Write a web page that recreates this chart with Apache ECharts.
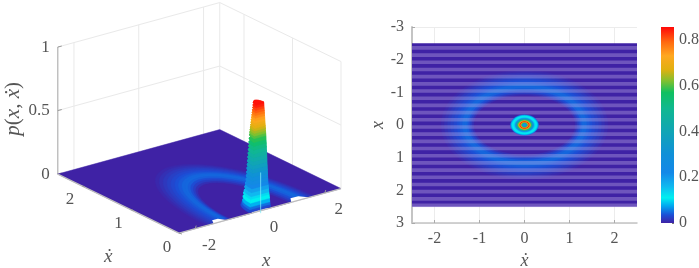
<!DOCTYPE html>
<html><head><meta charset="utf-8">
<style>html,body{margin:0;padding:0;background:#fff}#c{width:699px;height:268px;filter:blur(0.7px)}</style>
<script src="https://cdn.jsdelivr.net/npm/echarts@6/dist/echarts.min.js"></script>
</head><body><div id="c"></div>
<script>
// ---- data ----
const colourLevels = [0, 0.035, 0.075, 0.11, 0.16, 0.22, 0.3, 0.4, 0.5, 0.57, 0.62, 0.67, 0.73, 0.79, 0.856];
const colourValues = ['#3f22a5','#1c4fd6','#00a8f0','#00f0f0','#10b8f0','#1488e8','#1090d8','#10a5b5','#10b890','#10c060','#80c030','#e0b010','#ffa820','#ff6a10','#ff0808'];
// elliptical density ring: iso-contours from outside inward
const ringRadiusXdot = [1.85,1.78,1.71,1.64,1.57,1.50,1.44,1.38,1.33,1.28,1.24,1.20,1.16,1.12];
const ringRadiusX    = [1.66,1.60,1.54,1.48,1.42,1.36,1.30,1.24,1.18,1.12,1.06,1.00,0.95,0.90];
const ringLevel      = [0.005,0.011,0.017,0.023,0.029,0.035,0.04,0.045,0.046,0.042,0.033,0.022,0.01,0];
// central peak seen from above (right panel)
const centreRadius = [0.31, 0.295, 0.27, 0.24, 0.21, 0.19, 0.175, 0.16, 0.145, 0.13, 0.105, 0.085, 0.07, 0.055, 0.04, 0.03];
const centreLevel  = [0.05, 0.09, 0.11, 0.13, 0.2, 0.3, 0.4, 0.5, 0.6, 0.7, 0.85, 0.72, 0.6, 0.45, 0.3, 0.2];
// central peak silhouette (left panel)
const towerRadius = [0.33,0.31,0.30,0.29,0.28,0.27,0.26,0.25,0.24,0.235,0.23,0.225,0.22,0.215,0.21,0.205,0.20,0.195,0.19,0.185,0.18,0.175,0.17,0.165,0.16,0.155,0.15,0.145,0.14,0.135,0.13,0.125,0.12,0.115,0.11];
const towerLevel  = [0.01,0.03,0.05,0.08,0.11,0.13,0.16,0.19,0.22,0.25,0.28,0.31,0.34,0.37,0.40,0.43,0.46,0.49,0.52,0.55,0.58,0.60,0.62,0.64,0.66,0.68,0.70,0.72,0.74,0.76,0.78,0.80,0.82,0.84,0.85];
// clipped places along the xdot = 0 edge of the surface
const notchCentre = [-1.23, 0.03, 1.24];
const notchHalf   = [0.22, 0.30, 0.30];
const notchDepth  = [0.10, 0.12, 0.11];
// mesh rows visible as light stripes on the right panel
const stripeRows = [-2.36,-2.14,-1.92,-1.70,-1.48,-1.26,-1.04,-0.82,-0.60,-0.38,-0.16,0.06,0.28,0.50,0.72,0.94,1.16,1.38,1.60,1.82,2.04,2.26,2.46];
const surfaceX = [-2.5, 2.5];
const surfaceXdot3d = [0, 2.5];
const zTicks = [0, 0.5, 1];
const xTicks3d = [-2, 0, 2];
const xdotTicks3d = [0, 1, 2];
const xdotTicks = [-2, -1, 0, 1, 2];
const colourbarTop = 0.856;

// ---- helpers ----
function colourOf(v){
  for(let i=1;i<colourLevels.length;i++){
    if(v<=colourLevels[i]){
      const t=(v-colourLevels[i-1])/(colourLevels[i]-colourLevels[i-1]);
      return echarts.color.lerp(t,[colourValues[i-1],colourValues[i]]);
    }
  }
  return colourValues[colourValues.length-1];
}
// oblique view of the left panel, in the units of its hidden axes
const VIEW={u0:260,v0:210.8,xu:32.4,xv:-8.9,du:-48.5,dv:-23.6,zv:-127};
function proj(api,x,d,z){
  return api.coord([VIEW.u0+x*VIEW.xu+d*VIEW.du, VIEW.v0+x*VIEW.xv+d*VIEW.dv+(z||0)*VIEW.zv]);
}
const idx=a=>a.map((_,i)=>[i,0]);
const SERIF='"Liberation Serif","Times New Roman",serif';
const TXT='#555';
function halfEllipse(api,rd,rx,z){
  const pts=[];
  for(let k=0;k<=48;k++){const a=Math.PI*k/48; pts.push(proj(api,-rx*Math.cos(a),rd*Math.sin(a),z));}
  return pts;
}
function fullEllipse(api,rd,rx){
  const pts=[];
  for(let k=0;k<72;k++){const a=2*Math.PI*k/72; pts.push(api.coord([rd*Math.cos(a),rx*Math.sin(a)]));}
  return pts;
}
function poly(points,fill){return {type:'polygon',shape:{points},style:{fill,stroke:fill,lineWidth:0.5}};}
function line(a,b,stroke,w){return {type:'line',shape:{x1:a[0],y1:a[1],x2:b[0],y2:b[1]},style:{stroke,lineWidth:w}};}
function c3d(data,renderItem,z){return {type:'custom',xAxisIndex:0,yAxisIndex:0,coordinateSystem:'cartesian2d',data,renderItem,clip:false,silent:true,z:z,animation:false};}
function c2d(data,renderItem,z){return {type:'custom',xAxisIndex:1,yAxisIndex:1,coordinateSystem:'cartesian2d',data,renderItem,clip:false,silent:true,z:z,animation:false};}

// ---- wall and axis lines of the 3D box ----
const wallCol='#e9e9e9';
const wall3d=c3d([[0,0]],function(p,api){
  const xa=surfaceX[0],xb=surfaceX[1],d=surfaceXdot3d[1],ch=[];
  zTicks.slice(1).forEach(z=>{
    ch.push(line(proj(api,xa,d,z),proj(api,xb,d,z),wallCol,1));
    ch.push(line(proj(api,xb,d,z),proj(api,xb,0,z),wallCol,1));
  });
  xTicks3d.forEach(x=>ch.push(line(proj(api,x,d,0),proj(api,x,d,1),wallCol,1)));
  xdotTicks3d.forEach(t=>ch.push(line(proj(api,xb,t,0),proj(api,xb,t,1),wallCol,1)));
  ch.push(line(proj(api,xb,d,0),proj(api,xb,d,1),wallCol,1));
  ch.push(line(proj(api,xa,d,0),proj(api,xa,d,1),'#bdbdbd',1.4));
  zTicks.forEach(z=>{const a=proj(api,xa,d,z);ch.push(line(a,[a[0]+4,a[1]-1],'#999',1));});
  return {type:'group',children:ch};
},1);
const floor3d=c3d([[0,0]],function(p,api){
  const xa=surfaceX[0],xb=surfaceX[1],d=surfaceXdot3d[1];
  return poly([proj(api,xa,0,0),proj(api,xb,0,0),proj(api,xb,d,0),proj(api,xa,d,0)],colourOf(0));
},2);
const edge3d=c3d([[0,0]],function(p,api){
  const xa=surfaceX[0],xb=surfaceX[1],d=surfaceXdot3d[1],ch=[];
  ch.push(line(proj(api,xa,0,0),proj(api,xb,0,0),'#bdbdbd',1.3));
  ch.push(line(proj(api,xa,0,0),proj(api,xa,d,0),'#bdbdbd',1.3));
  xTicks3d.forEach(x=>{const a=proj(api,x,0,0);ch.push(line(a,[a[0]+1,a[1]-3],'#999',1));});
  xdotTicks3d.forEach(t=>{const a=proj(api,xa,t,0);ch.push(line(a,[a[0]+3,a[1]+1],'#999',1));});
  return {type:'group',children:ch};
},6);
const ring3d=c3d(idx(ringLevel),function(p,api){
  const i=api.value(0);
  return poly(halfEllipse(api,ringRadiusXdot[i],ringRadiusX[i],ringLevel[i]*0.5),colourOf(ringLevel[i]));
},3);
const notch3d=c3d(idx(notchCentre),function(p,api){
  const i=api.value(0),c=notchCentre[i],h=notchHalf[i],n=notchDepth[i];
  return {type:'polygon',shape:{points:[proj(api,c-h,-0.02,0),proj(api,c+h,-0.02,0),proj(api,c+h*0.35,n,0),proj(api,c-h*0.45,n,0)]},style:{fill:'#fff'}};
},4);
// each band joins one level of the peak to the next, cut face and curved wall
const tower3d=c3d(idx(towerLevel),function(p,api){
  const i=api.value(0),r=towerRadius[i],z=towerLevel[i],col=colourOf(z),ch=[];
  const cur=halfEllipse(api,r,r,z);
  if(i>0){
    const pr=towerRadius[i-1],pz=towerLevel[i-1];
    const prev=halfEllipse(api,pr,pr,pz);
    ch.push(poly(cur.concat(prev.slice().reverse()),col));
    ch.push(poly([proj(api,-pr,0,pz),proj(api,pr,0,pz),proj(api,r,0,z),proj(api,-r,0,z)],col));
  }
  ch.push(poly(cur,col));
  return {type:'group',children:ch};
},7);
const spine3d=c3d([[0,0]],function(p,api){
  return line(proj(api,0.02,0,-0.02),proj(api,0.02,0,0.3),'rgba(130,235,250,0.75)',1);
},8);
// ---- text of the 3D box ----
function lbl(pt,text,dx,dy,size,align){return {type:'text',x:pt[0]+dx,y:pt[1]+dy,style:{text:String(text),fill:TXT,font:size+'px '+SERIF,textAlign:align||'center',textVerticalAlign:'middle'}};}
const text3d=c3d([[0,0]],function(p,api){
  const xa=surfaceX[0],d=surfaceXdot3d[1],ch=[];
  zTicks.forEach(z=>ch.push(lbl(proj(api,xa,d,z),z,-8,0,17,'right')));
  xdotTicks3d.forEach(t=>ch.push(lbl(proj(api,xa,t,0),t,-12,14,17)));
  xTicks3d.forEach(x=>ch.push(lbl(proj(api,x,0,0),x,14,17,17)));
  return {type:'group',children:ch};
},9);

// ---- right panel ----
const floor2d=c2d([[0,0]],function(p,api){
  const a=api.coord([surfaceX[0],surfaceX[0]]),b=api.coord([surfaceX[1],surfaceX[1]]);
  return {type:'rect',shape:{x:a[0],y:a[1],width:b[0]-a[0],height:b[1]-a[1]},style:{fill:colourOf(0)}};
},2);
const ring2d=c2d(idx(ringLevel),function(p,api){
  const i=api.value(0);
  return poly(fullEllipse(api,ringRadiusXdot[i],ringRadiusX[i]),colourOf(ringLevel[i]));
},3);
const stripes2d=c2d(idx(stripeRows),function(p,api){
  const r=stripeRows[api.value(0)];
  return line(api.coord([surfaceX[0],r]),api.coord([surfaceX[1],r]),'rgba(205,190,240,0.33)',3.6);
},4);
const centre2d=c2d(idx(centreLevel),function(p,api){
  const i=api.value(0);
  return poly(fullEllipse(api,centreRadius[i],centreRadius[i]),colourOf(centreLevel[i]));
},5);
const barCol=new echarts.graphic.LinearGradient(0,1,0,0,colourLevels.map((l,i)=>({offset:l/colourbarTop,color:colourValues[i]})));

const axisLab={color:TXT,fontFamily:SERIF,fontSize:16};
const option={
  animation:false,
  backgroundColor:'#fff',
  grid:[
    {left:0,top:0,width:350,height:268,show:false,outerBoundsMode:'none'},
    {left:412,top:27,width:225,height:196,show:false,outerBoundsMode:'none'},
    {left:661,top:27,width:13,height:196,show:false,outerBoundsMode:'none'}
  ],
  xAxis:[
    {gridIndex:0,type:'value',min:0,max:350,show:false},
    {gridIndex:1,type:'value',min:surfaceX[0],max:surfaceX[1],
      name:'ẋ',nameLocation:'middle',nameGap:26,nameTextStyle:{color:TXT,fontFamily:SERIF,fontStyle:'italic',fontSize:18},
      axisLine:{onZero:false,lineStyle:{color:'#c4c4c4',width:1.5}},
      axisTick:{show:true,inside:true,length:3,lineStyle:{color:'#aaa'},customValues:xdotTicks},
      axisLabel:{...axisLab,margin:8,customValues:xdotTicks},
      splitLine:{show:true,lineStyle:{color:'#ececec'},customValues:xdotTicks}},
    {gridIndex:2,type:'category',data:['p'],show:false}
  ],
  yAxis:[
    {gridIndex:0,type:'value',min:0,max:268,inverse:true,show:false},
    {gridIndex:1,type:'value',min:-3,max:3,interval:1,inverse:true,
      name:'x',nameLocation:'middle',nameGap:24,nameRotate:90,nameTextStyle:{color:TXT,fontFamily:SERIF,fontStyle:'italic',fontSize:18},
      axisLine:{onZero:false,lineStyle:{color:'#c4c4c4',width:2}},
      axisTick:{show:true,inside:true,length:3,lineStyle:{color:'#aaa'}},
      axisLabel:{...axisLab,margin:8},
      splitLine:{show:true,lineStyle:{color:'#ececec'}}},
    {gridIndex:2,type:'value',min:0,max:colourbarTop,interval:0.2,position:'right',
      axisLine:{show:false},
      axisTick:{show:true,inside:true,length:2,lineStyle:{color:'#777'}},
      axisLabel:{...axisLab,margin:5,showMaxLabel:false},
      splitLine:{show:false}}
  ],
  graphic:[
    {type:'text',left:3,top:82,rotation:Math.PI/2,silent:true,style:{
      rich:{i:{font:'italic 21px '+SERIF,fill:TXT},n:{font:'21px '+SERIF,fill:TXT}},
      text:'{i|p}{n|(}{i|x, ẋ}{n|)}',fill:TXT}},
    {type:'text',left:104,top:247,silent:true,style:{text:'ẋ',font:'italic 19px '+SERIF,fill:TXT}},
    {type:'text',left:262,top:251,silent:true,style:{text:'x',font:'italic 19px '+SERIF,fill:TXT}}
  ],
  series:[
    wall3d,floor3d,ring3d,notch3d,edge3d,tower3d,spine3d,text3d,
    floor2d,ring2d,stripes2d,centre2d,
    {type:'bar',xAxisIndex:2,yAxisIndex:2,data:[colourbarTop],barWidth:'100%',itemStyle:{color:barCol},silent:true,animation:false}
  ]
};
echarts.init(document.getElementById('c'),null,{renderer:'canvas'}).setOption(option);
</script></body></html>
